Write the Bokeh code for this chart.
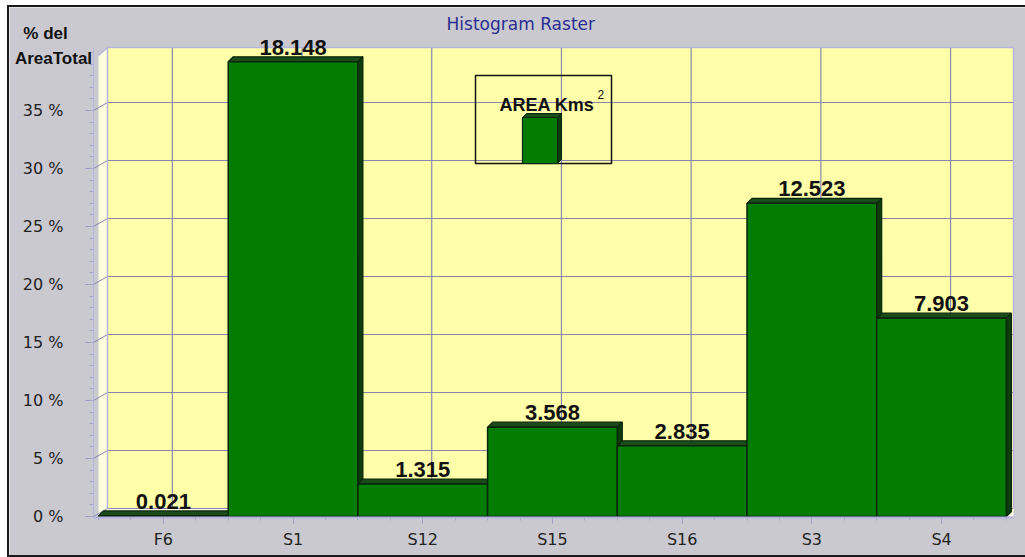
from bokeh.plotting import figure
from bokeh.models import Range1d, FixedTicker, Label, LabelSet, ColumnDataSource
from bokeh.embed import file_html
from bokeh.resources import INLINE
from bokeh.core.properties import value

# ---------------- data ----------------
categories = ["F6", "S1", "S12", "S15", "S16", "S3", "S4"]
area_km2 = [0.021, 18.148, 1.315, 3.568, 2.835, 12.523, 7.903]
pct_area = [0.05, 39.2, 2.8, 7.7, 6.1, 27.0, 17.1]
y_ticks = [0, 5, 10, 15, 20, 25, 30, 35]
y_tick_labels = ["0 %", "5 %", "10 %", "15 %", "20 %", "25 %", "30 %", "35 %"]
title_text = "Histogram  Raster"
y_title = ["% del", "AreaTotal"]
legend_text = "AREA Kms"

# ---------------- layout helpers (page pixels -> data units) ----------------
OX, OY = 9, 7           # page position of the figure
FW, FH = 1016, 548      # figure size
X0, XS = 98.0, 129.7    # page x of category 0 left edge, px per category
Y0, YS = 516.0, 11.6    # page y of 0 %, px per %
def ux(px):
    return (px - X0) / XS
def vy(py):
    return (Y0 - py) / YS

DXW, DYW = 9 / XS, 8 / YS   # wall depth
DXB, DYB = 5 / XS, 5 / YS   # bar depth

GREY = "#c9c9cf"
YELLOW = "#ffffaa"
GRID = "#8787ad"
GREEN = "#037c03"
GREEN_TOP = "#1b4a1b"
GREEN_SIDE = "#0d3d0d"
EDGE = "#0a260a"
BOLD = "Liberation Sans"
PLAIN = "DejaVu Sans"

# plot box (page px): axes sit here, wall ends here
AL, AR, AT, AB = 93, 1013, 47, 517
XL, XR, YB, YT = ux(AL), ux(AR), vy(AB), vy(AT)

p = figure(width=FW, height=FH,
           x_range=Range1d(ux(OX), ux(OX + FW)), y_range=Range1d(vy(OY + FH), vy(OY)),
           output_backend="svg", toolbar_location=None, title=None,
           min_border_left=0, min_border_right=0, min_border_top=0, min_border_bottom=0)
p.background_fill_color = GREY
p.border_fill_color = GREY
p.outline_line_color = None
p.xgrid.visible = False
p.ygrid.visible = False
p.styles = {"margin-left": "%dpx" % OX, "margin-top": "%dpx" % OY,
            "outline": "2px solid #1a1a1a"}

# ---------------- 3D walls ----------------
p.patch([0, DXW, DXW, 0], [0, DYW, YT, YT - DYW], fill_color="#fdfde0", line_color=None)
p.quad(left=[DXW], right=[XR], bottom=[DYW], top=[YT], fill_color=YELLOW, line_color=None)
p.patch([0, DXW, XR, XR], [0, DYW, DYW, 0], fill_color="#fdfde0", line_color=None)

hx = [[DXW, XR] for t in y_ticks]
hy = [[t + DYW, t + DYW] for t in y_ticks]
vx = [[i + 0.5 + DXW, i + 0.5 + DXW] for i in range(len(categories))]
vyy = [[DYW, YT] for i in range(len(categories))]
p.multi_line(hx + vx, hy + vyy, line_color=GRID, line_width=1.2)
dx_ = [[XL, DXW] for t in y_ticks]
dy_ = [[t, t + DYW] for t in y_ticks]
p.multi_line(dx_, dy_, line_color=GRID, line_width=1)
p.multi_line([[DXW, DXW], [XR, XR], [0, DXW], [DXW, XR]],
             [[DYW, YT], [DYW, YT], [YT - DYW, YT], [YT, YT]],
             line_color="#b4b4dc", line_width=1.5)

# ---------------- bars ----------------
n = len(categories)
side_xs, side_ys, top_xs, top_ys = [], [], [], []
for i, h in enumerate(pct_area):
    side_xs.append([i + 1, i + 1 + DXB, i + 1 + DXB, i + 1])
    side_ys.append([0, DYB, h + DYB, h])
    top_xs.append([i, i + DXB, i + 1 + DXB, i + 1])
    top_ys.append([h, h + DYB, h + DYB, h])
p.patches(side_xs, side_ys, fill_color=GREEN_SIDE, line_color=EDGE, line_width=1.2)
p.patches(top_xs, top_ys, fill_color=GREEN_TOP, line_color=EDGE, line_width=1.2)
src = ColumnDataSource(dict(left=list(range(n)), right=[i + 1 for i in range(n)],
                            top=pct_area, bottom=[0] * n,
                            cx=[i + 0.5 for i in range(n)],
                            lab=["%.3f" % a for a in area_km2]))
p.quad(left="left", right="right", top="top", bottom="bottom", source=src,
       fill_color=GREEN, line_color=EDGE, line_width=1.5)

labels = LabelSet(x="cx", y="top", text="lab", source=src, y_offset=7,
                  text_align="center", text_baseline="bottom",
                  text_font=value(BOLD), text_font_style="bold",
                  text_font_size="22px", text_color="#111111")
p.add_layout(labels)

# ---------------- axes (fixed at the plot box edges) ----------------
ya = p.yaxis[0]
ya.fixed_location = XL
ya.bounds = (YB, YT)
ya.ticker = FixedTicker(ticks=y_ticks, minor_ticks=list(range(0, 41)))
ya.major_label_overrides = {t: s for t, s in zip(y_ticks, y_tick_labels)}
ya.axis_line_color = "#b8b8dc"
ya.major_tick_line_color = "#9c9cc4"
ya.minor_tick_line_color = "#a8a8cc"
ya.major_tick_out = 8
ya.major_tick_in = 0
ya.minor_tick_out = 4
ya.minor_tick_in = 0
ya.major_label_standoff = 22
ya.major_label_text_font = PLAIN
ya.major_label_text_font_size = "16px"
ya.major_label_text_color = "#222222"

xa = p.xaxis[0]
xa.fixed_location = YB
xa.bounds = (XL, XR)
xa.ticker = FixedTicker(ticks=[i + 0.5 for i in range(n)],
                        minor_ticks=[k * 0.25 for k in range(4 * n + 1)])
xa.major_label_overrides = {i + 0.5: c for i, c in enumerate(categories)}
xa.axis_line_color = "#b4b4e4"
xa.axis_line_width = 2
xa.major_tick_line_color = "#9c9cc4"
xa.minor_tick_line_color = "#a8a8cc"
xa.major_tick_out = 6
xa.major_tick_in = 0
xa.minor_tick_out = 3
xa.minor_tick_in = 0
xa.major_label_standoff = 6
xa.major_label_text_font = PLAIN
xa.major_label_text_font_size = "16px"
xa.major_label_text_color = "#222222"

# ---------------- titles ----------------
p.add_layout(Label(x=ux(523), y=vy(23), text=title_text, text_align="center",
                   text_baseline="middle", text_font=PLAIN,
                   text_font_size="17px", text_color="#2d2d92"))
p.add_layout(Label(x=ux(45), y=vy(33), text=y_title[0], text_align="center",
                   text_baseline="middle", text_font=BOLD, text_font_style="bold",
                   text_font_size="17px", text_color="#111111"))
p.add_layout(Label(x=ux(53), y=vy(58), text=y_title[1], text_align="center",
                   text_baseline="middle", text_font=BOLD, text_font_style="bold",
                   text_font_size="17px", text_color="#111111"))

# ---------------- legend ----------------
lb_l, lb_r, lb_t, lb_b = ux(475), ux(611), vy(75), vy(163)
p.quad(left=[lb_l], right=[lb_r], top=[lb_t], bottom=[lb_b], fill_color=None,
       line_color="#111111", line_width=1.5)
bl, br, bt = ux(522), ux(557), vy(117)
ldx, ldy = 4 / XS, 4 / YS
p.patch([br, br + ldx, br + ldx, br], [lb_b, lb_b + ldy, bt + ldy, bt],
        fill_color=GREEN_SIDE, line_color=EDGE, line_width=1)
p.patch([bl, bl + ldx, br + ldx, br], [bt, bt + ldy, bt + ldy, bt],
        fill_color=GREEN_TOP, line_color=EDGE, line_width=1)
p.quad(left=[bl], right=[br], top=[bt], bottom=[lb_b], fill_color=GREEN,
       line_color=EDGE, line_width=1.2)
p.add_layout(Label(x=ux(499), y=vy(104), text=legend_text, text_align="left",
                   text_baseline="middle", text_font=BOLD, text_font_style="bold",
                   text_font_size="18px", text_color="#111111"))
p.add_layout(Label(x=ux(597), y=vy(94), text="2", text_align="left",
                   text_baseline="middle", text_font=BOLD,
                   text_font_size="12px", text_color="#111111"))

open("out.html", "w").write(file_html(p, INLINE))
